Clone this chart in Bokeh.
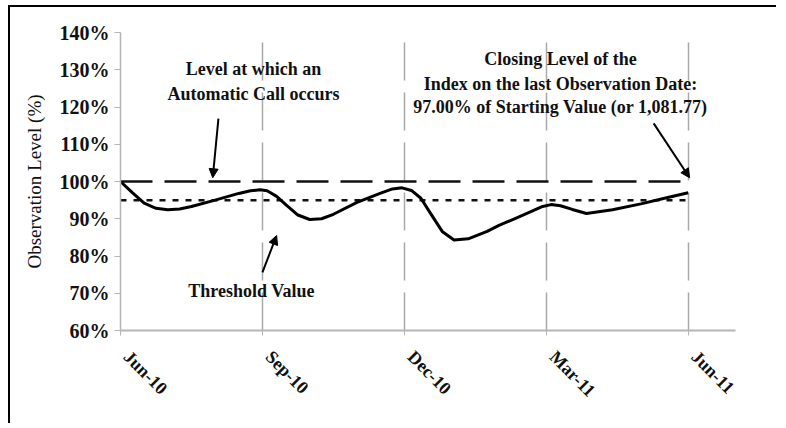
import math
from bokeh.plotting import figure
from bokeh.models import (FixedTicker, PrintfTickFormatter, Arrow, NormalHead, Label, Range1d)
from bokeh.embed import file_html
from bokeh.resources import INLINE

# ---- data ----
months = [0, 0.25, 0.5, 0.75, 1.0, 1.25, 1.5, 2.0, 2.5, 2.75, 2.95, 3.1, 3.3, 3.5, 3.75, 4.0,
          4.25, 4.5, 5.0, 5.5, 5.75, 5.95, 6.15, 6.35, 6.55, 6.8, 7.05, 7.35, 7.75, 8.0, 8.4,
          8.9, 9.1, 9.3, 9.55, 9.85, 10.4, 11.0, 11.5, 12.0]
level = [100.0, 97.0, 94.2, 92.8, 92.4, 92.6, 93.3, 95.0, 96.8, 97.5, 97.8, 97.5, 96.0, 93.7,
         91.0, 89.8, 90.0, 91.2, 94.4, 96.9, 98.0, 98.3, 97.6, 95.5, 91.5, 86.6, 84.3, 84.6,
         86.6, 88.2, 90.4, 93.2, 93.8, 93.5, 92.5, 91.4, 92.4, 94.0, 95.5, 97.0]
call_level = 100
threshold_level = 95
tick_months = [0, 3, 6, 9, 12]
tick_labels = ["Jun-10", "Sep-10", "Dec-10", "Mar-11", "Jun-11"]
y_ticks = [60, 70, 80, 90, 100, 110, 120, 130, 140]

FONT = "Liberation Serif"
NB = "\u00a0\u00a0"

p = figure(width=768, height=418, output_backend="svg", toolbar_location=None,
           x_range=Range1d(0, 13), y_range=Range1d(60, 140),
           min_border_left=110, min_border_right=43, min_border_top=25, min_border_bottom=95)
p.styles = {"border-top": "2px solid black", "border-left": "2px solid black",
            "margin-top": "5px", "margin-left": "8px"}
p.outline_line_color = None
p.background_fill_color = "white"
p.border_fill_color = "white"

# axes
p.xaxis.ticker = FixedTicker(ticks=tick_months)
p.xaxis.major_label_overrides = {m: NB + l for m, l in zip(tick_months, tick_labels)}
p.xaxis.major_label_orientation = -math.pi / 4
p.xaxis.minor_tick_line_color = None
p.xaxis.axis_line_color = "#b5b5b5"
p.xaxis.axis_line_width = 2
p.xaxis.major_tick_line_color = "#b5b5b5"
p.xaxis.major_tick_out = 5
p.xaxis.major_tick_in = 0
p.xaxis.major_label_standoff = 12
p.xaxis.major_label_text_font = FONT
p.xaxis.major_label_text_font_size = "18px"
p.xaxis.major_label_text_font_style = "bold"
p.xaxis.major_label_text_color = "#111111"

p.yaxis.ticker = FixedTicker(ticks=y_ticks)
p.yaxis.formatter = PrintfTickFormatter(format="%d%%")
p.yaxis.minor_tick_line_color = None
p.yaxis.axis_line_color = "#b5b5b5"
p.yaxis.axis_line_width = 1.5
p.yaxis.major_tick_line_color = "#b5b5b5"
p.yaxis.major_tick_out = 6
p.yaxis.major_tick_in = 0
p.yaxis.major_label_standoff = 5
p.yaxis.major_label_text_font = FONT
p.yaxis.major_label_text_font_size = "20px"
p.yaxis.major_label_text_font_style = "bold"
p.yaxis.major_label_text_color = "#111111"
p.yaxis.axis_label = "Observation Level (%)"
p.yaxis.axis_label_text_font = FONT
p.yaxis.axis_label_text_font_size = "19px"
p.yaxis.axis_label_text_font_style = "normal"
p.yaxis.axis_label_text_color = "#111111"
p.yaxis.axis_label_standoff = 12

p.xgrid.ticker = FixedTicker(ticks=tick_months)
p.xgrid.grid_line_color = "#a8a8a8"
p.xgrid.grid_line_dash = "38 12"
p.xgrid.grid_line_width = 1.5
p.ygrid.grid_line_color = None

# reference lines
p.line([tick_months[0], tick_months[-1]], [call_level, call_level],
       line_color="#111111", line_width=2.5, line_dash="32 12")
p.line([tick_months[0], tick_months[-1]], [threshold_level, threshold_level],
       line_color="#111111", line_width=2.5, line_dash="6 7")

# index curve
p.line(months, level, line_color="black", line_width=3, line_join="round")

# annotations
def lab(x, y, t):
    p.add_layout(Label(x=x, y=y, text=t, text_align="center", text_baseline="middle",
                       text_font=FONT, text_font_size="18px", text_font_style="bold",
                       text_color="#111111"))

lab(2.81, 130.3, "Level at which an")
lab(2.81, 123.6, "Automatic Call occurs")
lab(2.77, 70.7, "Threshold Value")
lab(9.3, 132.8, "Closing Level of the")
lab(9.3, 126.3, "Index on the last Observation Date:")
lab(9.3, 119.9, "97.00% of Starting Value (or 1,081.77)")

for xs, ys, xe, ye in [(2.07, 116.9, 1.95, 101.0), (3.0, 75.6, 3.3, 85.5), (11.27, 115.6, 12.03, 101.0)]:
    p.add_layout(Arrow(x_start=xs, y_start=ys, x_end=xe, y_end=ye, line_width=2, line_color="black",
                       end=NormalHead(size=9, fill_color="black", line_color="black")))

open("out.html", "w").write(file_html(p, INLINE))
